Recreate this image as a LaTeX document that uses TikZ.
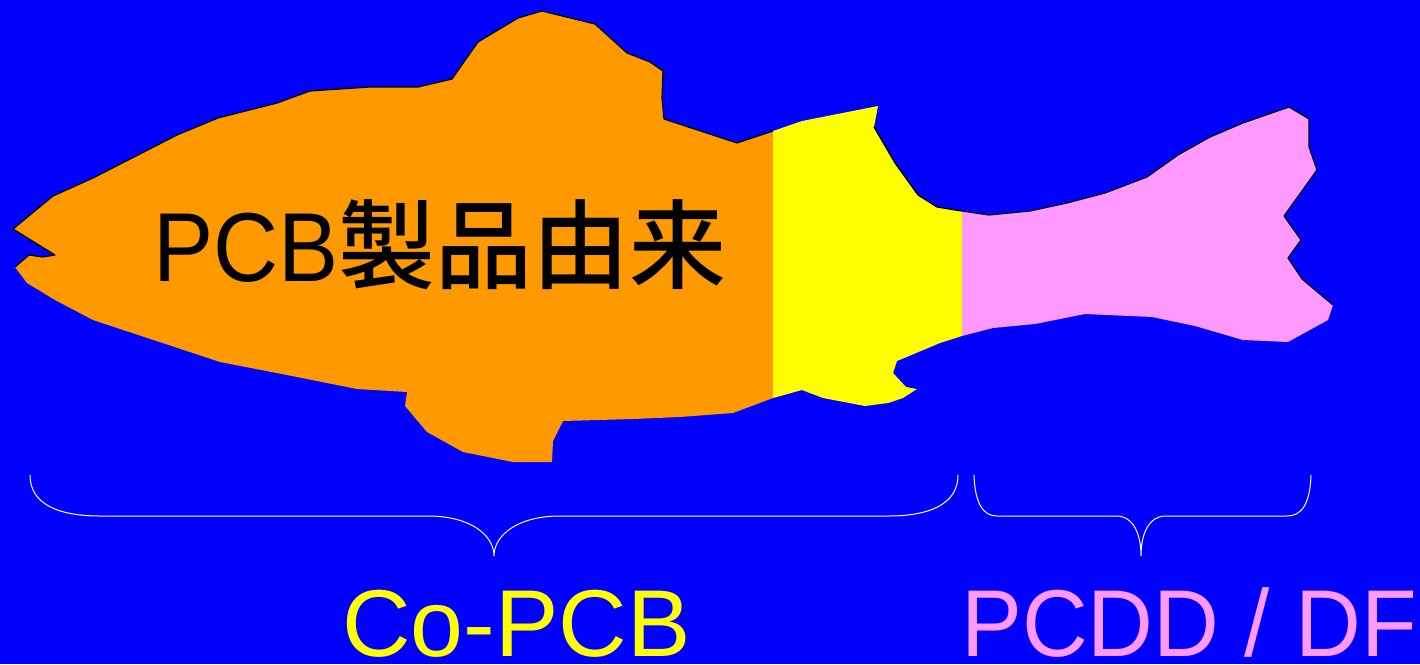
\documentclass[tikz,border=0pt]{standalone}
\usepackage{fontspec}
\setmainfont{Liberation Sans}
\newfontfamily\cjk{Noto Sans CJK JP}[UprightFont = * Medium]
\definecolor{sea}{HTML}{0000FF}
\definecolor{headcol}{HTML}{FF9900}
\definecolor{midcol}{HTML}{FFFF00}
\definecolor{tailcol}{HTML}{FF99FF}

\begin{document}
\begin{tikzpicture}[x=1pt,y=-1pt]
  \tikzset{
      every node/.append style = {
          inner sep = 0pt
      },
      outline/.style = {
          draw = black,
          line width = 1.2pt,
          line join = round
      },
      brace/.style = {
          draw = white,
          line width = 1pt
      },
      big/.style = {
          font = \fontsize{95}{95}\selectfont
      }
  }
  \useasboundingbox (0,0) rectangle (1420,664);
  \fill[sea] (0,0) rectangle (1420,664);

  \path[save path=\fish]
      (13,229) -- (53,196) -- (93,178) -- (177,135) -- (218,118) -- (277,103)
      -- (310,91) -- (370,87) -- (418,87) -- (452,79) -- (478,42) -- (518,18)
      -- (542,11) -- (595,24) -- (627,53) -- (650,62) -- (663,71) -- (662,98)
      -- (664,119) -- (737,143) -- (773,131) -- (802,121) -- (878,106)
      -- (874,127) -- (895,163) -- (918,195) -- (937,207) -- (955,210)
      -- (989,215) -- (1030,211) -- (1067,203) -- (1105,193) -- (1147,177)
      -- (1178,155) -- (1210,137) -- (1243,123) -- (1289,107) -- (1309,119)
      -- (1309,147) -- (1317,170) -- (1284,216) -- (1301,240) -- (1288,258)
      -- (1302,279) -- (1333,305) -- (1328,320) -- (1288,342) -- (1243,340)
      -- (1195,326) -- (1152,317) -- (1085,314) -- (1035,324) -- (993,328)
      -- (962,336) -- (940,343) -- (897,361) -- (893,373) -- (906,387)
      -- (917,389) -- (903,398) -- (888,403) -- (865,406) -- (823,398)
      -- (802,390) -- (773,398) -- (733,413) -- (680,417) -- (633,419)
      -- (563,421) -- (553,441) -- (552,462) -- (513,462) -- (463,452)
      -- (427,432) -- (405,406) -- (407,392) -- (357,389) -- (287,375)
      -- (220,362) -- (93,320) -- (55,300) -- (27,283) -- (15,267)
      -- (29,255) -- (43,257) -- (55,255) -- cycle;

  \foreach \from/\to/\col in {0/773/headcol, 773/962/midcol, 962/1420/tailcol} {
      \begin{scope}
          \clip (\from,0) rectangle (\to,664);
          \fill[\col, use path=\fish];
      \end{scope}
  }

  % back line of the fish
  \draw[outline] (15,267) -- (29,255) -- (43,257) -- (55,255) -- (13,229)
      -- (53,196) -- (93,178) -- (177,135) -- (218,118) -- (277,103)
      -- (310,91) -- (370,87) -- (418,87) -- (452,79) -- (478,42) -- (518,18)
      -- (542,11) -- (595,24) -- (627,53) -- (650,62) -- (663,71) -- (662,98)
      -- (664,119) -- (737,143) -- (773,131);
  \draw[outline] (874,127) -- (895,163) -- (918,195) -- (937,207) -- (955,210)
      -- (989,215) -- (1030,211) -- (1067,203) -- (1105,193) -- (1147,177)
      -- (1178,155) -- (1210,137) -- (1243,123) -- (1289,107) -- (1309,119)
      -- (1309,147) -- (1317,170) -- (1284,216) -- (1301,240) -- (1288,258)
      -- (1302,279) -- (1333,305);

  \node[anchor=base west] (origin) at (153,281)
      {\fontsize{98}{98}\selectfont\scalebox{0.92}[1]{PCB}%
       {\cjk\fontsize{97}{97}\selectfont 製品由来}};

  % braces
  \coordinate (l1) at (30,475);
  \coordinate (r1) at (958,475);
  \coordinate (t1) at (494,556);
  \coordinate (l2) at (974,475);
  \coordinate (r2) at (1311,475);
  \coordinate (t2) at (1141,556);
  \draw[brace] (l1) .. controls (30,505) and (60,516) .. (100,516) -- (428,516)
      .. controls (470,516) and (494,535) .. (t1)
      .. controls (494,535) and (518,516) .. (560,516) -- (888,516)
      .. controls (928,516) and (958,505) .. (r1);
  \draw[brace] (l2) .. controls (975,505) and (984,516) .. (997,516) -- (1116,516)
      .. controls (1134,516) and (1141,535) .. (t2)
      .. controls (1141,535) and (1148,516) .. (1166,516) -- (1287,516)
      .. controls (1301,516) and (1310,505) .. (r2);

  \node[big, anchor=base west, text=midcol] (copcb) at (342,656) {Co-PCB};
  \node[big, anchor=base west, text=tailcol] (pcdd) at (961,656)
      {\scalebox{0.96}[1]{PCDD / DF}};
\end{tikzpicture}
\end{document}
